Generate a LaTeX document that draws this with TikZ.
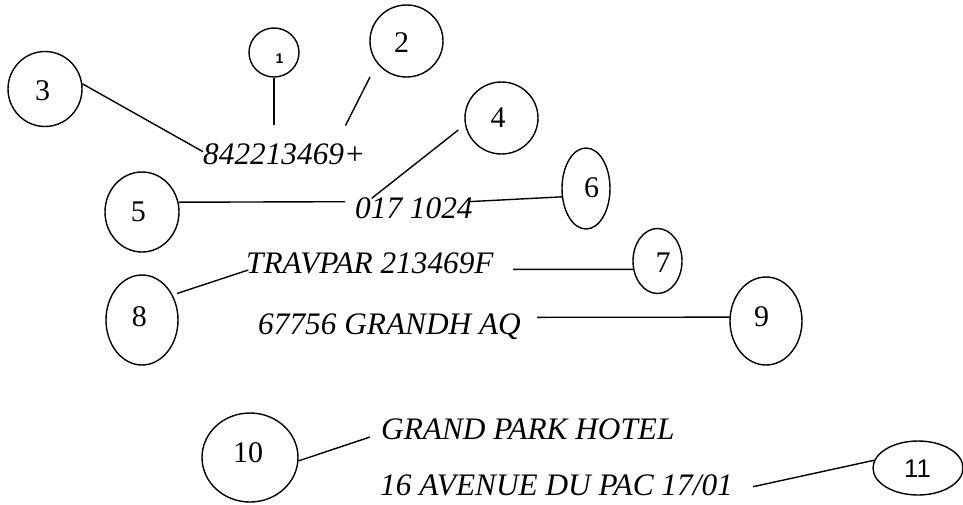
\documentclass[tikz,border=0pt]{standalone}
\usepackage{fontspec}
\setmainfont{Liberation Serif}
\newfontfamily\labsans{Liberation Sans}
\usetikzlibrary{shapes.geometric}
\begin{document}
\begin{tikzpicture}[x=1pt,y=-1pt,
  bubble/.style={draw,ellipse,line width=1.4pt,inner sep=0pt},
  num/.style={inner sep=0pt,font=\fontsize{30}{30}\selectfont},
  codetext/.style={inner sep=0pt,anchor=base west,font=\fontsize{31.3}{31.3}\selectfont\itshape},
  lead/.style={line width=1.4pt}]
\useasboundingbox (0,0) rectangle (963,504);
% ellipses
\node[bubble,minimum width=50pt,minimum height=49pt] (e1) at (274,52.5) {};
\node[bubble,minimum width=73pt,minimum height=72pt] (e2) at (406.5,41) {};
\node[bubble,minimum width=74pt,minimum height=75pt] (e3) at (45,89) {};
\node[bubble,minimum width=73pt,minimum height=72pt] (e4) at (501.5,118) {};
\node[bubble,minimum width=74pt,minimum height=80pt] (e5) at (142,212) {};
\node[bubble,minimum width=48pt,minimum height=81pt] (e6) at (586,188.5) {};
\node[bubble,minimum width=49pt,minimum height=65pt] (e7) at (657.5,261) {};
\node[bubble,minimum width=72pt,minimum height=90pt] (e8) at (142,320) {};
\node[bubble,minimum width=72pt,minimum height=88pt] (e9) at (766,321) {};
\node[bubble,minimum width=96pt,minimum height=89pt] (e10) at (250,457.5) {};
\node[bubble,minimum width=90pt,minimum height=54pt] (e11) at (918,468) {};
% numbers
\node[inner sep=0pt,font=\fontsize{14}{14}\selectfont\labsans\bfseries] (n1) at (279.5,58.3) {1};
\node[num] (n2) at (401.7,42.7) {2};
\node[num] (n3) at (42.7,90.7) {3};
\node[num] (n4) at (498,118) {4};
\node[num] (n5) at (138.3,211.7) {5};
\node[num] (n6) at (591.7,188) {6};
\node[num] (n7) at (663,263) {7};
\node[num] (n8) at (139.3,316.7) {8};
\node[num] (n9) at (761.7,317) {9};
\node[num] (n10) at (248,453) {10};
\node[inner sep=0pt,font=\fontsize{25.6}{25.6}\selectfont\labsans] (n11) at (917.5,469) {11};
% texts
\node[codetext] (t1) at (203,164) {842213469+};
\node[codetext] (t2) at (355,218.5) {017 1024};
\node[codetext] (t3) at (246,273) {TRAVPAR 213469F};
\node[codetext] (t4) at (258,334.5) {67756 GRANDH AQ};
\node[codetext] (t5) at (381,439) {GRAND PARK HOTEL};
\node[codetext] (t6) at (380,495) {16 AVENUE DU PAC 17/01};
% free ends
\coordinate (c1) at (274,125);
\coordinate (c2a) at (370,77);
\coordinate (c2b) at (345.5,125.5);
\coordinate (c3) at (203,151.7);
\coordinate (c4a) at (458.3,130);
\coordinate (c4b) at (371.7,198.3);
\coordinate (c5) at (345,201.7);
\coordinate (c6) at (468,201.7);
\coordinate (c7) at (513,269.3);
\coordinate (c8a) at (177,293.5);
\coordinate (c8b) at (248.3,270);
\coordinate (c9) at (537,317.3);
\coordinate (c10) at (370,437);
\coordinate (c11) at (753,486.7);
% leaders
\draw[lead] (e1.south) -- (c1);
\draw[lead] (c2a) -- (c2b);
\draw[lead] (e3.8) -- (c3);
\draw[lead] (c4a) -- (c4b);
\draw[lead] (e5.15) -- (c5);
\draw[lead] (e6.199) -- (c6);
\draw[lead] (e7.199) -- (c7);
\draw[lead] (c8a) -- (c8b);
\draw[lead] (e9.174) -- (c9);
\draw[lead] (e10.-4) -- (c10);
\draw[lead] (e11.170) -- (c11);
\end{tikzpicture}
\end{document}
